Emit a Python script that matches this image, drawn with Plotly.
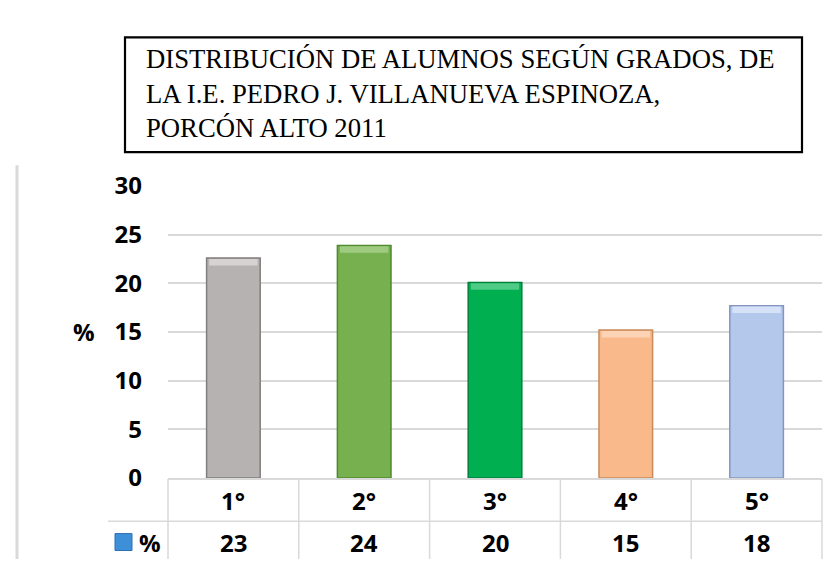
import plotly.graph_objects as go

# ---- data ----
categories = ["1°", "2°", "3°", "4°", "5°"]
values = [22.6, 23.9, 20.1, 15.2, 17.7]
series_name = "%"
y_ticks = [0, 5, 10, 15, 20, 25, 30]
title_lines = [
    "DISTRIBUCIÓN DE ALUMNOS SEGÚN GRADOS, DE",
    "LA I.E. PEDRO J. VILLANUEVA ESPINOZA,",
    "PORCÓN ALTO 2011",
]

# ---- styles ----
fill_colors = ["#b6b2b1", "#77b04f", "#00b050", "#f9b98a", "#b4c8ec"]
line_colors = ["#827e7d", "#4e8a2f", "#00803b", "#c98a5c", "#8496c0"]
hi_colors = ["#d6d3d2", "#9fcb80", "#4fcb86", "#fcd3b5", "#d6e2f7"]

W, H = 833, 566
X0, X1 = 160, 814          # plot area in px
Y_TOP, Y_ZERO = 170, 480   # px of 30 and 0
GRID = "#d9d9d9"
TXT_FONT = dict(family="Open Sans", size=24, color="#000000", weight="bold")

def px(x):
    return x / W

def py(y):
    return (H - y) / H

xd = [px(X0), px(X1)]
yd = [py(Y_ZERO), py(Y_TOP)]

fig = go.Figure()
fig.add_trace(go.Bar(
    x=categories, y=values, name=series_name,
    width=0.41,
    marker=dict(color=fill_colors, line=dict(color=line_colors, width=1.5)),
    showlegend=False, hoverinfo="x+y",
))
# bevel highlight on the top of each bar
band = 0.75
fig.add_trace(go.Bar(
    x=categories, y=[band - 0.08] * len(values),
    base=[v - band for v in values],
    width=0.37,
    marker=dict(color=hi_colors, line=dict(width=0)),
    showlegend=False, hoverinfo="skip",
))

n = len(categories)
def cat_px(i):
    return xd[0] + (i + 0.5) / n * (xd[1] - xd[0])

shapes = []
# title box
shapes.append(dict(type="rect", xref="paper", yref="paper",
                   x0=px(117), x1=px(794), y0=py(134), y1=py(12),
                   line=dict(color="#000000", width=2.2), fillcolor="rgba(0,0,0,0)"))
# left gray border
shapes.append(dict(type="line", xref="paper", yref="paper",
                   x0=px(9), x1=px(9), y0=py(148), y1=0,
                   line=dict(color=GRID, width=3)))
# data table vertical lines
for i in range(n + 1):
    xp = cat_px(i - 0.5)
    shapes.append(dict(type="line", xref="paper", yref="paper",
                       x0=xp, x1=xp, y0=py(481), y1=0,
                       line=dict(color=GRID, width=1.5)))
# data table horizontal divider
shapes.append(dict(type="line", xref="paper", yref="paper",
                   x0=px(100), x1=xd[1], y0=py(526), y1=py(526),
                   line=dict(color=GRID, width=1.5)))
# legend key
shapes.append(dict(type="rect", xref="paper", yref="paper",
                   x0=px(107), x1=px(124), y0=py(557), y1=py(539),
                   line=dict(color="#2c6fb3", width=1), fillcolor="#3d8fd8"))

annotations = []
annotations.append(dict(xref="paper", yref="paper", x=px(136), y=py(72),
                        xanchor="left", yanchor="middle", align="left",
                        text="<br>".join(title_lines), showarrow=False,
                        font=dict(family="Liberation Serif", size=26.7, color="#000000")))
annotations.append(dict(xref="paper", yref="paper", x=px(76), y=py(324),
                        xanchor="center", yanchor="middle", text=series_name,
                        showarrow=False, font=TXT_FONT))
for i, (c, v) in enumerate(zip(categories, values)):
    annotations.append(dict(xref="paper", yref="paper", x=cat_px(i), y=py(504),
                            xanchor="center", yanchor="middle", text=c,
                            showarrow=False, font=TXT_FONT))
    annotations.append(dict(xref="paper", yref="paper", x=cat_px(i), y=py(548),
                            xanchor="center", yanchor="middle", text=f"{v:.0f}",
                            showarrow=False, font=TXT_FONT))
annotations.append(dict(xref="paper", yref="paper", x=px(142), y=py(548),
                        xanchor="center", yanchor="middle", text=series_name,
                        showarrow=False, font=TXT_FONT))

fig.update_layout(
    width=W, height=H,
    margin=dict(l=0, r=0, t=0, b=0),
    paper_bgcolor="white", plot_bgcolor="white",
    shapes=shapes, annotations=annotations,
    barmode="overlay",
    xaxis=dict(domain=xd, range=[-0.5, n - 0.5], showticklabels=False,
               showgrid=False, zeroline=False, showline=True, linecolor=GRID,
               linewidth=1.5, fixedrange=True),
    yaxis=dict(domain=yd, range=[0, 30], tickvals=y_ticks,
               showgrid=True, gridcolor=GRID, gridwidth=1.5, zeroline=False,
               showline=False, ticks="", ticklabelstandoff=25,
               tickfont=TXT_FONT, fixedrange=True),
)

fig.write_html("out.html")
